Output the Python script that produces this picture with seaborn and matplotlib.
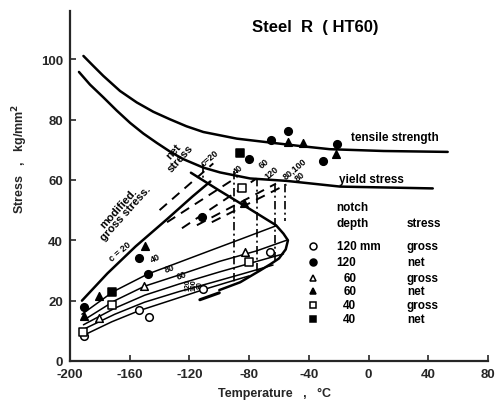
import numpy as np
import pandas as pd
import matplotlib
matplotlib.use("Agg")
import matplotlib.pyplot as plt
import seaborn as sns

# ---- strength curves (temperature in deg C, stress in kg/mm^2) ----
tensile_T = [-191, -184.4, -177.7, -166.5, -155.3, -144.2, -133, -122, -110.7,
             -88.3, -66, -45, -26, 10, 53]
tensile_S = [101.1, 97.8, 94.5, 89.5, 85.7, 82.6, 80.1, 77.8, 75.9,
             73.7, 72.4, 71.2, 70.2, 69.6, 69.3]
yield_T = [-194, -186.6, -177.7, -168.7, -159.7, -150.9, -141.9, -133, -124.1,
           -110.7, -99.5, -79.4, -55, -19, 43]
yield_S = [95.8, 91.6, 87.4, 83.0, 78.9, 75.4, 72.3, 69.4, 66.9,
           64.1, 62.5, 60.5, 59.7, 57.8, 57.2]

# modified gross stress curves for notch parameter c
c20_T = [-192, -175, -156, -135, -118, -106]
c20_S = [20.0, 29.0, 38.0, 47.0, 54.5, 59.5]
c40_T = [-192, -171, -148, -127, -105, -85, -62]
c40_S = [15.5, 23.0, 28.8, 32.7, 36.8, 40.5, 44.8]
c60_T = [-191, -170, -150, -127, -100, -75, -55]
c60_S = [13.5, 20.0, 24.8, 28.5, 33.0, 36.5, 40.0]
c80_T = [-191, -170, -150, -127, -100, -75, -57]
c80_S = [12.0, 17.5, 21.8, 25.5, 29.5, 33.0, 35.5]
c100_T = [-191, -170, -150, -127, -105, -85, -64]
c100_S = [10.5, 15.5, 19.5, 23.0, 26.0, 28.8, 31.8]
c120_T = [-191, -172, -153.6, -130, -111, -95, -80]
c120_S = [8.5, 13.0, 16.7, 20.5, 23.6, 26.0, 28.2]

# envelope of fracture stress (nose shaped)
env_T = [-119, -100, -80, -62, -57, -54, -55.5, -60, -66, -73, -86, -100]
env_S = [62.4, 56.5, 50.5, 45.0, 42.2, 40.0, 37.0, 34.0, 32.0, 29.9, 26.1, 23.5]
base_T = [-113, -100]
base_S = [20.3, 22.6]

# net stress lines (dashed)
net_lines = {
    "c=20": ([-140, -104], [50.0, 65.5]),
    "40": ([-135, -88], [46.0, 61.0]),
    "60": ([-125, -75], [44.0, 60.5]),
    "120": ([-115, -62], [45.0, 58.8]),
    "80,100": ([-105, -55], [46.0, 58.5]),
}

# transition temperatures (vertical dash-dot lines): T, upper, lower stress
trans_T = [-111, -90.2, -75, -62.5, -56]
trans_top = [65.2, 63.0, 60.8, 58.6, 58.6]
trans_bot = [59.7, 26.2, 29.9, 32.5, 46.5]

# test results
g120_T = [-190.6, -153.6, -147.4, -111, -65.7]
g120_S = [8.4, 17.0, 14.5, 23.8, 36.2]
n120_T = [-190.6, -153.6, -148, -111.5, -80.1, -65.1, -53.9, -21.4, -30.4]
n120_S = [17.8, 34.3, 28.8, 47.6, 66.9, 73.1, 76.3, 71.9, 66.2]
g60_T = [-180.5, -150.3, -83]
g60_S = [14.1, 24.9, 36.2]
n60_T = [-190.6, -180.5, -150, -83.2, -54.2, -43.6, -21.9]
n60_S = [15.0, 21.5, 38.0, 52.4, 72.5, 72.4, 68.5]
g40_T = [-191.3, -171.6, -80.1, -84.6]
g40_S = [9.7, 18.5, 32.9, 57.5]
n40_T = [-171.6, -86]
n40_S = [23.0, 69.1]

x_ticks = [-200, -160, -120, -80, -40, 0, 40, 80]
y_ticks = [0, 20, 40, 60, 80, 100]

sns.set_style("ticks")
plt.rcParams["font.family"] = ["Liberation Sans", "DejaVu Sans"]
plt.rcParams["axes.unicode_minus"] = False

fig = plt.figure(figsize=(4.97, 4.10), dpi=100)
ax = fig.add_axes([70 / 497, 48 / 410, 418 / 497, 350 / 410])

K = "black"


def curve(T, S, lw=1.0):
    df = pd.DataFrame({"T": T, "S": S})
    sns.lineplot(data=df, x="T", y="S", sort=False, estimator=None,
                 color=K, lw=lw, ax=ax)
    ax.lines[-1].set_solid_joinstyle("round")
    return ax.lines[-1]


curve(tensile_T, tensile_S, lw=1.8)
curve(yield_T, yield_S, lw=1.8)
curve(c20_T, c20_S, lw=1.8)
for T, S in [(c40_T, c40_S), (c60_T, c60_S), (c80_T, c80_S),
             (c100_T, c100_S), (c120_T, c120_S)]:
    curve(T, S, lw=1.1)
curve(env_T, env_S, lw=1.8)
curve(base_T, base_S, lw=2.2)

for name, (T, S) in net_lines.items():
    curve(T, S, lw=1.4).set_dashes([5, 3.5])

for t, top, bot in zip(trans_T, trans_top, trans_bot):
    curve([t, t], [top, bot], lw=1.2).set_dashes([5, 2, 1.2, 2])

# scatter of measured points
groups = [
    (g120_T, g120_S, "o", "white"),
    (n120_T, n120_S, "o", K),
    (g60_T, g60_S, "^", "white"),
    (n60_T, n60_S, "^", K),
    (g40_T, g40_S, "s", "white"),
    (n40_T, n40_S, "s", K),
]
for T, S, m, fc in groups:
    sns.scatterplot(x=T, y=S, marker=m, s=30, facecolor=fc, edgecolor=K,
                    linewidth=1.1, ax=ax, zorder=5)

ax.set_xlim(-200, 80)
ax.set_ylim(0, 116)
ax.set_xticks(x_ticks)
ax.set_yticks(y_ticks)
ax.set_xticklabels([str(v) for v in x_ticks], fontsize=9.5, fontweight="bold")
ax.set_yticklabels([str(v) for v in y_ticks], fontsize=9.5, fontweight="bold")
ax.tick_params(direction="in", length=4, width=1.2, pad=5)
for s in ["top", "right"]:
    ax.spines[s].set_visible(False)
for s in ["left", "bottom"]:
    ax.spines[s].set_linewidth(1.6)

ax.set_xlabel("Temperature   ,   °C", fontsize=9, fontweight="bold")
ax.xaxis.set_label_coords(0.49, -0.075)
ax.set_ylabel("Stress   ,   kg/mm$^\\mathbf{2}$", fontsize=9, fontweight="bold")
ax.yaxis.set_label_coords(-0.095, 0.58)

bold = dict(fontweight="bold", color=K)
ax.text(-36, 111, "Steel  R  ( HT60)", fontsize=12, ha="center", va="center", **bold)
ax.text(-12, 72.2, "tensile strength", fontsize=8.5, ha="left", va="bottom", **bold)
ax.text(-20, 58.3, "yield stress", fontsize=8.5, ha="left", va="bottom", **bold)

ax.text(-128, 68.5, "net\nstress", fontsize=8, rotation=48, ha="center",
        va="center", linespacing=0.9, **bold)
ax.text(-165, 50, "modified.\ngross stress.", fontsize=8, rotation=48,
        ha="center", va="center", linespacing=0.9, **bold)
ax.text(-166.5, 36.4, "c = 20", fontsize=6.5, rotation=40, ha="center",
        va="center", **bold)
ax.text(-143, 34.3, "40", fontsize=6.5, rotation=25, ha="center", va="center", **bold)
ax.text(-133.5, 31, "80", fontsize=6.5, rotation=20, ha="center", va="center", **bold)
ax.text(-125.5, 28.5, "60", fontsize=6.5, rotation=20, ha="center", va="center", **bold)
for i, lab in enumerate(["120", "100", "80"]):
    ax.text(-121 + 4.2 * i, 25.5, lab, fontsize=5, rotation=90,
            ha="center", va="center", **bold)

net_labels = [(-106.5, 67.4, "c=20"), (-87.5, 63.8, "40"), (-70.3, 65.7, "60"),
              (-65, 62.7, "120"), (-49.4, 64.1, "80,100"), (-46.1, 61.3, "80")]
for x, y, lab in net_labels:
    ax.text(x, y, lab, fontsize=6.5, rotation=40, ha="center", va="center", **bold)

# legend table
ax.text(-21.4, 50.9, "notch", fontsize=8.5, ha="left", va="center", **bold)
ax.text(-21.4, 45.9, "depth", fontsize=8.5, ha="left", va="center", **bold)
ax.text(25.6, 45.9, "stress", fontsize=8.5, ha="left", va="center", **bold)
rows_y = [38.2, 32.8, 27.5, 23.1, 18.4, 14.0]
depths = ["120 mm", "120", "60", "60", "40", "40"]
kinds = ["gross", "net", "gross", "net", "gross", "net"]
keys = [("o", "white"), ("o", K), ("^", "white"), ("^", K), ("s", "white"), ("s", K)]
for y, d, k, (m, fc) in zip(rows_y, depths, kinds, keys):
    ax.plot([-37], [y], marker=m, ms=5, mfc=fc, mec=K, mew=1.1, ls="none")
    ax.text(-21.4 if d.startswith("120") else -17, y, d, fontsize=8.5,
            ha="left", va="center", **bold)
    ax.text(25.6, y, k, fontsize=8.5, ha="left", va="center", **bold)

fig.savefig("out.png", dpi=100)
